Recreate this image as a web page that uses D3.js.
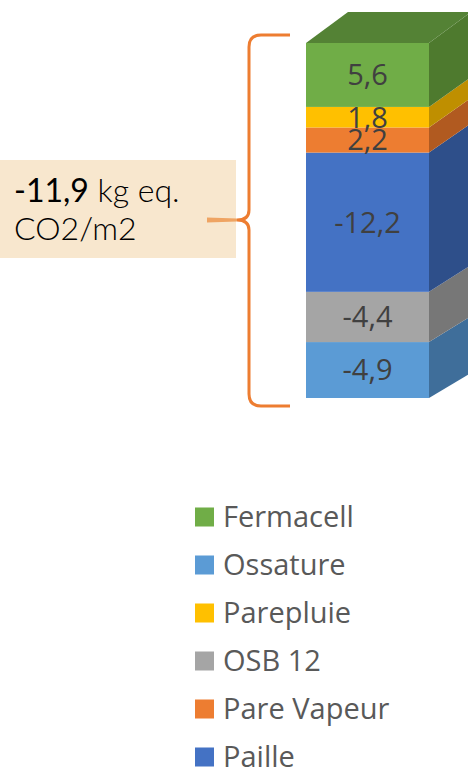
<!DOCTYPE html>
<html>
<head>
<meta charset="utf-8">
<script src="https://cdn.jsdelivr.net/npm/d3@7"></script>
<style>
  body { margin: 0; background: #fff; }
  svg { display: block; }
</style>
</head>
<body>
<svg width="468" height="767"></svg>
<script>
var svg = d3.select("svg");

// stack, bottom to top
var layers = ["Ossature", "OSB 12", "Paille", "Pare Vapeur", "Parepluie", "Fermacell"];
var values = [-4.9, -4.4, -12.2, 2.2, 1.8, 5.6];
var frontColors = ["#5B9BD5", "#A5A5A5", "#4472C4", "#ED7D31", "#FFC000", "#70AD47"];
var sideColors = ["#3F6E9A", "#777777", "#2E4F8A", "#B15A20", "#BF8F00", "#4E7A2E"];
var topColor = "#548235";

var legendNames = ["Fermacell", "Ossature", "Parepluie", "OSB 12", "Pare Vapeur", "Paille"];
var legendColors = ["#70AD47", "#5B9BD5", "#FFC000", "#A5A5A5", "#ED7D31", "#4472C4"];

var totalLabel = "-11,9";

// geometry of the box
var x0 = 306, x1 = 429, depthX = 42;
var total = d3.sum(values, function(v) { return Math.abs(v); });
var y = d3.scaleLinear().domain([0, total]).range([398, 43]);
// depth offset shrinks a bit towards the bottom (perspective)
var depthY = d3.scaleLinear().domain([43, 398]).range([31, 25]);

var stacked = [];
var acc = 0;
values.forEach(function(v, i) {
  stacked.push({name: layers[i], value: v, lo: acc, hi: acc + Math.abs(v), front: frontColors[i], side: sideColors[i]});
  acc += Math.abs(v);
});

function fmt(v) { return d3.format(".1f")(v).replace("−", "-").replace(".", ","); }

var bar = svg.append("g");

// side faces
bar.selectAll(".side").data(stacked).enter().append("polygon")
  .attr("fill", function(d) { return d.side; })
  .attr("points", function(d) {
    var yb = y(d.lo), yt = y(d.hi);
    return [[x1, yb], [x1 + depthX, yb - depthY(yb)], [x1 + depthX, yt - depthY(yt)], [x1, yt]].join(" ");
  });

// front faces
bar.selectAll(".front").data(stacked).enter().append("rect")
  .attr("x", x0)
  .attr("width", x1 - x0)
  .attr("y", function(d) { return y(d.hi); })
  .attr("height", function(d) { return y(d.lo) - y(d.hi); })
  .attr("fill", function(d) { return d.front; });

// top face
var yTop = y(total), dTop = depthY(yTop);
bar.append("polygon")
  .attr("fill", topColor)
  .attr("points", [[x0, yTop], [x1, yTop], [x1 + depthX, yTop - dTop], [x0 + depthX, yTop - dTop]].join(" "));

// value labels
bar.selectAll(".lab").data(stacked).enter().append("text")
  .attr("x", (x0 + x1) / 2)
  .attr("y", function(d) { return (y(d.lo) + y(d.hi)) / 2; })
  .attr("dy", "0.36em")
  .attr("text-anchor", "middle")
  .attr("font-family", "'Open Sans', sans-serif")
  .attr("font-size", 29)
  .attr("fill", "#404040")
  .text(function(d) { return fmt(d.value); });

// brace
var bx = 249, tipX = 290, yb0 = 35, yb1 = 406, ym = 220, r = 12;
var brace = d3.path();
brace.moveTo(tipX, yb0);
brace.lineTo(bx + r, yb0);
brace.quadraticCurveTo(bx, yb0, bx, yb0 + r);
brace.lineTo(bx, ym - 10);
brace.quadraticCurveTo(bx, ym, 237, ym);
brace.quadraticCurveTo(bx, ym, bx, ym + 10);
brace.lineTo(bx, yb1 - r);
brace.quadraticCurveTo(bx, yb1, bx + r, yb1);
brace.lineTo(tipX, yb1);
svg.append("path")
  .attr("d", brace.toString())
  .attr("fill", "none")
  .attr("stroke", "#ED7D31")
  .attr("stroke-width", 3);

// callout box
svg.append("rect")
  .attr("x", 0).attr("y", 160)
  .attr("width", 236).attr("height", 98)
  .attr("fill", "#F8E7CE");

svg.append("polygon")
  .attr("points", "207,217.5 237,218.5 237,221.5 207,222.5")
  .attr("fill", "#EFA463");

var t1 = svg.append("text")
  .attr("x", 14).attr("y", 202)
  .attr("font-family", "Lato, sans-serif")
  .attr("font-size", 32)
  .attr("fill", "#000");
t1.append("tspan").attr("font-weight", 400).text(totalLabel);
t1.append("tspan").attr("font-weight", 300).text(" kg eq.");
svg.append("text")
  .attr("x", 14).attr("y", 240)
  .attr("font-family", "Lato, sans-serif")
  .attr("font-weight", 300)
  .attr("font-size", 32)
  .attr("fill", "#000")
  .text("CO2/m2");

// legend
var leg = svg.selectAll(".leg").data(legendNames).enter().append("g")
  .attr("transform", function(d, i) { return "translate(195," + (517 + i * 48) + ")"; });
leg.append("rect")
  .attr("x", 0).attr("y", -9.5)
  .attr("width", 19).attr("height", 19)
  .attr("fill", function(d, i) { return legendColors[i]; });
leg.append("text")
  .attr("x", 28)
  .attr("dy", "0.36em")
  .attr("font-family", "'Open Sans', sans-serif")
  .attr("font-size", 29)
  .attr("fill", "#595959")
  .text(function(d) { return d; });
</script>
</body>
</html>
